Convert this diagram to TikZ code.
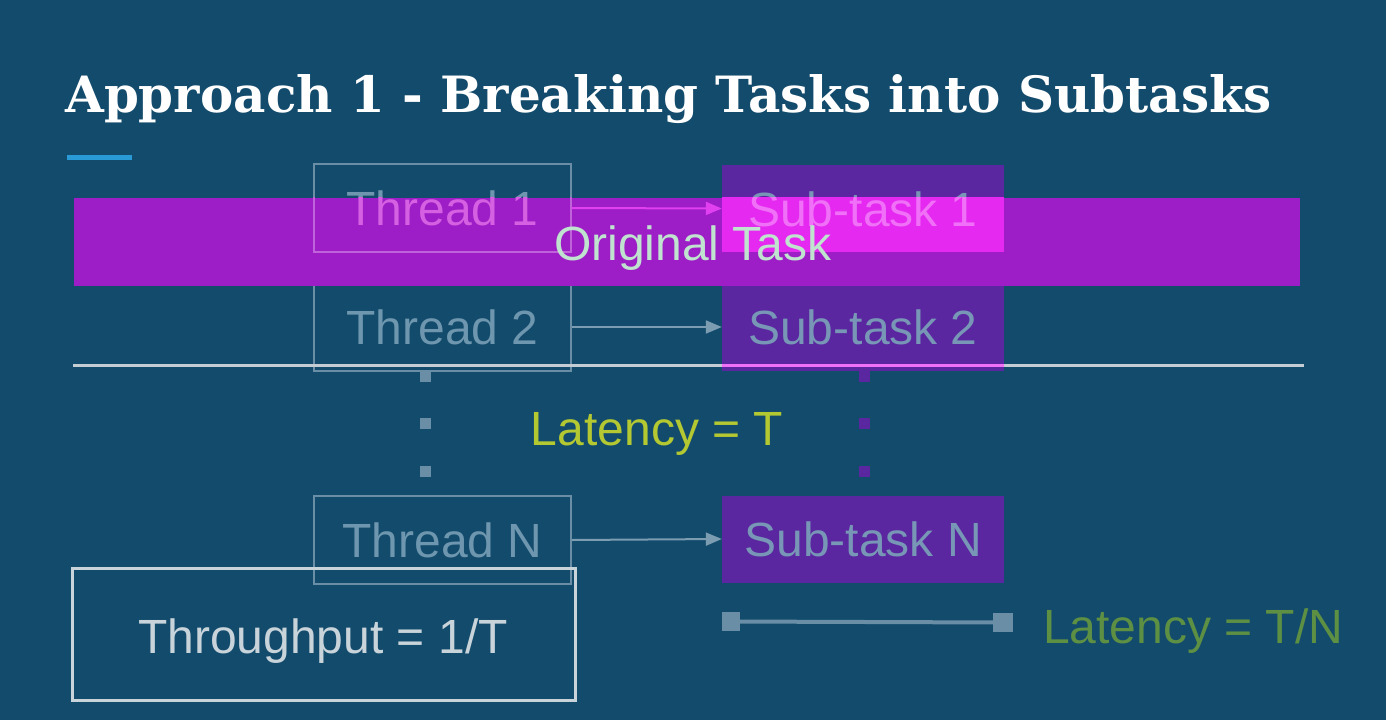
\documentclass[tikz,border=0pt]{standalone}
\usepackage{fontspec}
\setmainfont{Liberation Sans}
\newfontfamily\slabfont{DejaVu Serif}
\usetikzlibrary{arrows, arrows.meta}

\definecolor{slidebg}{HTML}{134B6C}
\definecolor{accent}{HTML}{2A9AD6}
\definecolor{threadline}{HTML}{6A8EA6}
\definecolor{threadtext}{HTML}{6E96AE}
\definecolor{taskfill}{HTML}{5A27A0}
\definecolor{tasktext}{HTML}{7896B6}
\definecolor{flowcol}{HTML}{7C9CB2}
\definecolor{bandfill}{HTML}{9D1DC6}
\definecolor{hotpink}{HTML}{E629F0}
\definecolor{pinktext}{HTML}{D560E2}
\definecolor{pinkedge}{HTML}{C062DA}
\definecolor{pinkarrow}{HTML}{E040F0}
\definecolor{pinklight}{HTML}{F070F8}
\definecolor{origtext}{HTML}{BFE3CF}
\definecolor{sepcol}{HTML}{C3CDD3}
\definecolor{latT}{HTML}{B4C832}
\definecolor{latTN}{HTML}{5E9044}
\definecolor{tputcol}{HTML}{C8D3DA}

\tikzstyle{threadbox} = [draw=threadline, line width=1.2pt, minimum width=257pt, minimum height=88pt, inner sep=0pt, text=threadtext, text height=35pt, text depth=0pt]
\tikzstyle{taskbox} = [fill=taskfill, minimum width=282pt, minimum height=87pt, inner sep=0pt, text=tasktext, text height=35pt, text depth=0pt]
\tikzstyle{flow} = [draw=flowcol, line width=2pt, -{Triangle[length=16pt,width=13pt]}]
\tikzstyle{dotbox} = [rectangle, minimum size=11pt, inner sep=0pt]
\tikzstyle{label} = [inner sep=0pt, text height=35pt, text depth=0pt]

\begin{document}
\begin{tikzpicture}[x=1pt,y=-1pt,font=\fontsize{48}{56}\selectfont]
		\fill[slidebg] (0,0) rectangle (1386,720);
		\useasboundingbox (0,0) rectangle (1386,720);
		% title
		\node[anchor=base west, inner sep=0pt, text=white, font=\slabfont\bfseries\fontsize{50}{58}\selectfont] (title) at (65,112) {Approach 1 - Breaking Tasks into Subtasks};
		\fill[accent] (67,155) rectangle (132,160);
		% threads and sub-tasks
		\node[threadbox] (t1) at (442.5,208) {Thread 1};
		\node[threadbox] (t2) at (442.5,327) {Thread 2};
		\node[threadbox] (tn) at (442.5,540) {Thread N};
		\node[taskbox] (s1) at (863,208.5) {Sub-task 1};
		\node[taskbox] (s2) at (863,327) {Sub-task 2};
		\node[taskbox] (sn) at (863,539) {Sub-task N};
		\draw[flow] (t1.east) -- (s1.west);
		\draw[flow] (t2.east) -- (s2.west);
		\draw[flow] (tn.east) -- (sn.west);
		\foreach \y [count=\i] in {376,423,471}{
			\node[dotbox, fill=threadline] (gd\i) at (425,\y) {};
			\node[dotbox, fill=taskfill] (pd\i) at (864,\y) {};
		}
		% original task band
		\node[fill=bandfill, minimum width=1226pt, minimum height=88pt, inner sep=0pt] (band) at (687,242) {};
		\begin{scope}
			\clip (band.north west) rectangle (band.south east);
			\node[threadbox, draw=pinkedge, text=pinktext] (t1p) at (t1) {Thread 1};
			\node[taskbox, fill=hotpink, text=pinklight] (s1p) at (s1) {Sub-task 1};
			\draw[flow, draw=pinkarrow, fill=pinkarrow] (t1p.east) -- (s1p.west);
		\end{scope}
		\node[label, text=origtext] (orig) at (693,243) {Original Task};
		% separator
		\coordinate (sepa) at (73,365);
		\coordinate (sepb) at (1304,365);
		\draw[sepcol, line width=3pt] (sepa) -- (sepb);
		\begin{scope}
			\clip (s2.south west) rectangle (s2.north east);
			\draw[pinklight, line width=3pt] (sepa) -- (sepb);
		\end{scope}
		\node[label, text=latT] (latT) at (657,428) {Latency = T};
		% throughput
		\node[draw=tputcol, line width=2.5pt, minimum width=503pt, minimum height=132pt] (tbox) at (324,634.5) {};
		\node[label, text=tputcol] (tput) at (323,636) {Throughput = 1/T};
		% latency bar
		\node[dotbox, fill=threadline, minimum width=18pt, minimum height=19pt] (la) at (731,621.5) {};
		\node[dotbox, fill=threadline, minimum width=20pt, minimum height=19pt] (lb) at (1003,622.5) {};
		\draw[threadline, line width=4pt] (la) -- (lb);
		\node[label, anchor=west, text=latTN] (latTN) at (1043,626) {Latency = T/N};
	\end{tikzpicture}
\end{document}
